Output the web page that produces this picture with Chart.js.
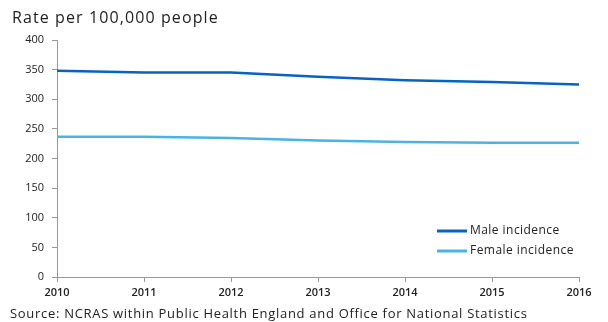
<!DOCTYPE html>
<html><head><meta charset="utf-8">
<script src="https://cdn.jsdelivr.net/npm/chart.js@4/dist/chart.umd.min.js"></script>
<style>html,body{margin:0;padding:0;background:#fff;}#wrap{width:608px;height:322px;position:relative;}</style>
</head><body><div id="wrap"><canvas id="c" width="608" height="322"></canvas></div>
<script>
const years = ['2010','2011','2012','2013','2014','2015','2016'];
const maleIncidence = [348, 345, 345, 338, 332, 329, 325];
const femaleIncidence = [236.5, 236.5, 234.5, 230.5, 228, 226.5, 226.5];
const seriesNames = ['Male incidence', 'Female incidence'];
const titleText = 'Rate per 100,000 people';
const sourceText = 'Source: NCRAS within Public Health England and Office for National Statistics';
const FONT = '"Open Sans", sans-serif';

const textPlugin = {
  id: 'texts',
  afterDraw(chart) {
    const ctx = chart.ctx;
    ctx.save();
    ctx.fillStyle = '#222';
    ctx.textBaseline = 'middle';
    ctx.textAlign = 'left';
    ctx.letterSpacing = '1.1px';
    ctx.font = '16px ' + FONT;
    ctx.fillText(titleText, 12, 18);
    ctx.letterSpacing = '0.7px';
    ctx.font = '13px ' + FONT;
    ctx.fillText(sourceText, 10, 314);
    // legend
    const ds = chart.data.datasets;
    ds.forEach((d, i) => {
      const y = 231 + i * 20;
      ctx.strokeStyle = d.borderColor;
      ctx.lineWidth = 3;
      ctx.beginPath(); ctx.moveTo(437, y); ctx.lineTo(467, y); ctx.stroke();
      ctx.fillStyle = '#222';
      ctx.letterSpacing = '0.45px';
      ctx.font = '12px ' + FONT;
      ctx.fillText(d.label, 470, y);
    });
    ctx.restore();
  }
};

new Chart(document.getElementById('c'), {
  type: 'line',
  data: {
    labels: years,
    datasets: [
      { label: seriesNames[0], data: maleIncidence, borderColor: '#0563C1', backgroundColor: '#0563C1', borderWidth: 2.5, pointRadius: 0, tension: 0, fill: false },
      { label: seriesNames[1], data: femaleIncidence, borderColor: '#48B4E6', backgroundColor: '#48B4E6', borderWidth: 2.5, pointRadius: 0, tension: 0, fill: false }
    ]
  },
  options: {
    responsive: false,
    animation: false,
    devicePixelRatio: 1,
    layout: { padding: { left: 0, right: 29, top: 40, bottom: 0 } },
    plugins: { legend: { display: false }, title: { display: false }, tooltip: { enabled: false } },
    scales: {
      x: {
        offset: false,
        grid: { display: true, drawOnChartArea: false, drawTicks: true, tickLength: 5, color: '#999' },
        border: { display: true, color: '#999', width: 1 },
        ticks: { color: '#222', font: { family: FONT, size: 11, weight: '600' }, padding: 4, maxRotation: 0, autoSkip: false },
        afterFit(s) { s.height = 45; }
      },
      y: {
        min: 0, max: 400,
        grid: { display: true, drawOnChartArea: false, drawTicks: true, tickLength: 5, color: '#999' },
        border: { display: true, color: '#999', width: 1 },
        ticks: { stepSize: 50, color: '#222', font: { family: FONT, size: 11 }, padding: 8 },
        afterFit(s) { s.width = 57; }
      }
    }
  },
  plugins: [textPlugin]
});
</script></body></html>
